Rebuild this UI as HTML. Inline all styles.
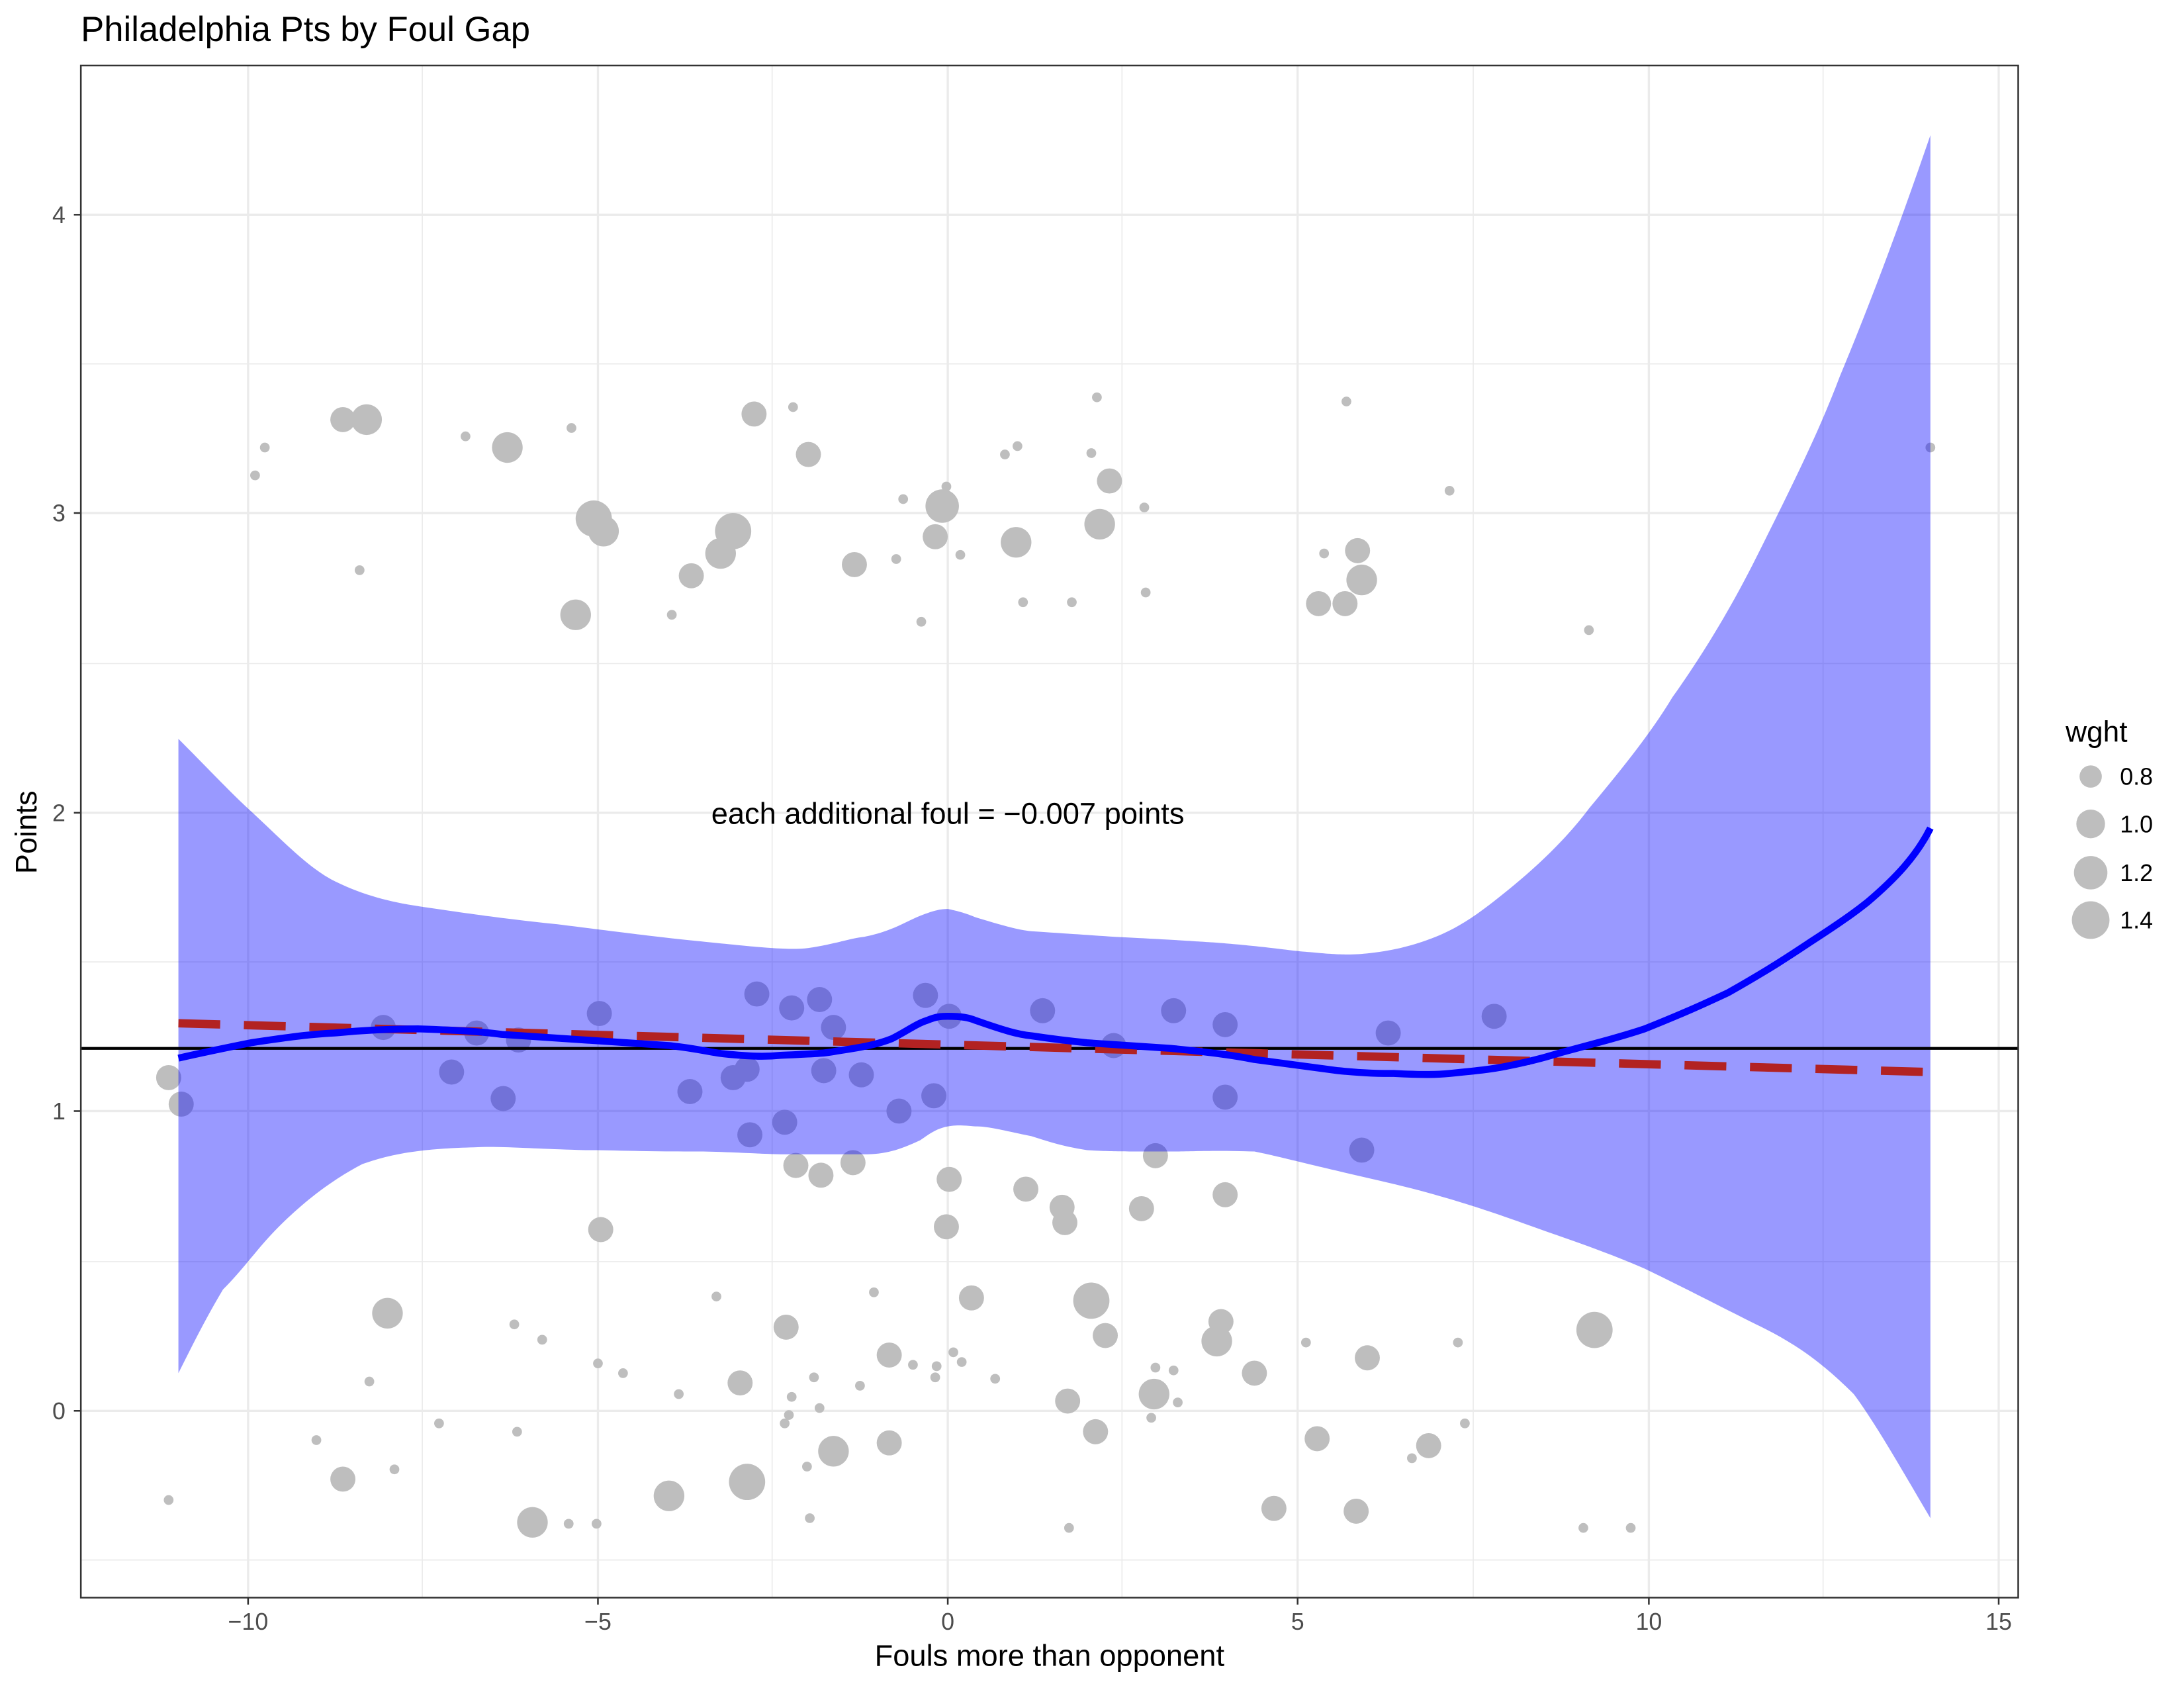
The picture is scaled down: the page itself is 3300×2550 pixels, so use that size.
<!DOCTYPE html>
<html><head><meta charset="utf-8"><style>html,body{margin:0;padding:0;background:#fff}svg{display:block}text{font-family:"Liberation Sans",Arial,sans-serif}</style></head>
<body>
<svg width="3300" height="2550" viewBox="0 0 3300 2550" xmlns="http://www.w3.org/2000/svg">
<rect x="0" y="0" width="3300" height="2550" fill="#fff"/>
<g transform="scale(2.106,2.106)">
<text x="58" y="29.5" font-size="25" fill="#000">Philadelphia Pts by Foul Gap</text>
<g stroke="#ebebeb" stroke-width="0.8">
<line x1="58" x2="1448" y1="261" y2="261"/><line x1="58" x2="1448" y1="476" y2="476"/><line x1="58" x2="1448" y1="690" y2="690"/><line x1="58" x2="1448" y1="905" y2="905"/><line x1="58" x2="1448" y1="1119" y2="1119"/>
<line y1="47" y2="1146" x1="303" x2="303"/><line y1="47" y2="1146" x1="554" x2="554"/><line y1="47" y2="1146" x1="805" x2="805"/><line y1="47" y2="1146" x1="1057" x2="1057"/><line y1="47" y2="1146" x1="1308" x2="1308"/>
</g>
<g stroke="#ebebeb" stroke-width="1.6">
<line x1="58" x2="1448" y1="154" y2="154"/><line x1="58" x2="1448" y1="368" y2="368"/><line x1="58" x2="1448" y1="583" y2="583"/><line x1="58" x2="1448" y1="797" y2="797"/><line x1="58" x2="1448" y1="1012" y2="1012"/>
<line y1="47" y2="1146" x1="178" x2="178"/><line y1="47" y2="1146" x1="429" x2="429"/><line y1="47" y2="1146" x1="680" x2="680"/><line y1="47" y2="1146" x1="931" x2="931"/><line y1="47" y2="1146" x1="1183" x2="1183"/><line y1="47" y2="1146" x1="1434" x2="1434"/>
</g>
<g fill="#bebebe">
<circle cx="246" cy="301" r="9"/><circle cx="263" cy="301" r="11"/><circle cx="190" cy="321" r="3.5"/><circle cx="183" cy="341" r="3.5"/><circle cx="258" cy="409" r="3.5"/><circle cx="334" cy="313" r="3.5"/><circle cx="364" cy="321" r="11"/><circle cx="410" cy="307" r="3.5"/><circle cx="426" cy="372" r="13"/><circle cx="433" cy="381" r="11"/><circle cx="413" cy="441" r="11"/><circle cx="482" cy="441" r="3.5"/><circle cx="496" cy="413" r="9"/><circle cx="517" cy="397" r="11"/><circle cx="526" cy="381" r="13"/><circle cx="541" cy="297" r="9"/><circle cx="569" cy="292" r="3.5"/><circle cx="580" cy="326" r="9"/><circle cx="613" cy="405" r="9"/><circle cx="643" cy="401" r="3.5"/><circle cx="648" cy="358" r="3.5"/><circle cx="661" cy="446" r="3.5"/><circle cx="671" cy="385" r="9"/><circle cx="676" cy="363" r="12"/><circle cx="679" cy="349" r="3.5"/><circle cx="689" cy="398" r="3.5"/><circle cx="729" cy="389" r="11"/><circle cx="721" cy="326" r="3.5"/><circle cx="730" cy="320" r="3.5"/><circle cx="734" cy="432" r="3.5"/><circle cx="783" cy="325" r="3.5"/><circle cx="787" cy="285" r="3.5"/><circle cx="796" cy="345" r="9"/><circle cx="789" cy="376" r="11"/><circle cx="821" cy="364" r="3.5"/><circle cx="822" cy="425" r="3.5"/><circle cx="769" cy="432" r="3.5"/><circle cx="946" cy="433" r="9"/><circle cx="950" cy="397" r="3.5"/><circle cx="966" cy="288" r="3.5"/><circle cx="965" cy="433" r="9"/><circle cx="974" cy="395" r="9"/><circle cx="977" cy="416" r="11"/><circle cx="1040" cy="352" r="3.5"/><circle cx="1140" cy="452" r="3.5"/><circle cx="1385" cy="321" r="3.5"/>
<circle cx="121" cy="773" r="9"/><circle cx="130" cy="792" r="9"/><circle cx="275" cy="737" r="9"/><circle cx="342" cy="741" r="9"/><circle cx="372" cy="746" r="9"/><circle cx="324" cy="769" r="9"/><circle cx="361" cy="788" r="9"/><circle cx="430" cy="727" r="9"/><circle cx="495" cy="783" r="9"/><circle cx="526" cy="773" r="9"/><circle cx="536" cy="767" r="9"/><circle cx="543" cy="713" r="9"/><circle cx="538" cy="814" r="9"/><circle cx="563" cy="805" r="9"/><circle cx="568" cy="723" r="9"/><circle cx="588" cy="717" r="9"/><circle cx="598" cy="737" r="9"/><circle cx="591" cy="768" r="9"/><circle cx="618" cy="771" r="9"/><circle cx="645" cy="797" r="9"/><circle cx="664" cy="714" r="9"/><circle cx="670" cy="786" r="9"/><circle cx="681" cy="729" r="9"/><circle cx="748" cy="725" r="9"/><circle cx="799" cy="750" r="9"/><circle cx="842" cy="725" r="9"/><circle cx="879" cy="735" r="9"/><circle cx="879" cy="787" r="9"/><circle cx="977" cy="825" r="9"/><circle cx="996" cy="741" r="9"/><circle cx="1072" cy="729" r="9"/>
<circle cx="571" cy="836" r="9"/><circle cx="589" cy="843" r="9"/><circle cx="612" cy="834" r="9"/><circle cx="681" cy="846" r="9"/><circle cx="679" cy="880" r="9"/><circle cx="431" cy="882" r="9"/><circle cx="736" cy="853" r="9"/><circle cx="762" cy="866" r="9"/><circle cx="764" cy="877" r="9"/><circle cx="819" cy="867" r="9"/><circle cx="829" cy="829" r="9"/><circle cx="879" cy="857" r="9"/>
<circle cx="278" cy="942" r="11"/><circle cx="564" cy="952" r="9"/><circle cx="514" cy="930" r="3.5"/><circle cx="627" cy="927" r="3.5"/><circle cx="697" cy="931" r="9"/><circle cx="783" cy="933" r="13"/><circle cx="793" cy="958" r="9"/><circle cx="876" cy="948" r="9"/><circle cx="873" cy="962" r="11"/><circle cx="900" cy="985" r="9"/><circle cx="981" cy="974" r="9"/><circle cx="1144" cy="954" r="13"/><circle cx="638" cy="972" r="9"/><circle cx="369" cy="950" r="3.5"/><circle cx="389" cy="961" r="3.5"/><circle cx="265" cy="991" r="3.5"/><circle cx="429" cy="978" r="3.5"/><circle cx="447" cy="985" r="3.5"/><circle cx="487" cy="1000" r="3.5"/><circle cx="531" cy="992" r="9"/><circle cx="568" cy="1002" r="3.5"/><circle cx="584" cy="988" r="3.5"/><circle cx="588" cy="1010" r="3.5"/><circle cx="617" cy="994" r="3.5"/><circle cx="655" cy="979" r="3.5"/><circle cx="684" cy="970" r="3.5"/><circle cx="690" cy="977" r="3.5"/><circle cx="672" cy="980" r="3.5"/><circle cx="671" cy="988" r="3.5"/><circle cx="714" cy="989" r="3.5"/><circle cx="766" cy="1005" r="9"/><circle cx="829" cy="981" r="3.5"/><circle cx="842" cy="983" r="3.5"/><circle cx="828" cy="1000" r="11"/><circle cx="845" cy="1006" r="3.5"/><circle cx="937" cy="963" r="3.5"/><circle cx="1046" cy="963" r="3.5"/><circle cx="315" cy="1021" r="3.5"/><circle cx="227" cy="1033" r="3.5"/><circle cx="371" cy="1027" r="3.5"/><circle cx="563" cy="1021" r="3.5"/><circle cx="566" cy="1015" r="3.5"/><circle cx="786" cy="1027" r="9"/><circle cx="826" cy="1017" r="3.5"/><circle cx="598" cy="1041" r="11"/><circle cx="638" cy="1035" r="9"/><circle cx="945" cy="1032" r="9"/><circle cx="1025" cy="1037" r="9"/><circle cx="1051" cy="1021" r="3.5"/><circle cx="1013" cy="1046" r="3.5"/><circle cx="246" cy="1061" r="9"/><circle cx="283" cy="1054" r="3.5"/><circle cx="579" cy="1052" r="3.5"/><circle cx="536" cy="1063" r="13"/><circle cx="480" cy="1073" r="11"/><circle cx="121" cy="1076" r="3.5"/><circle cx="382" cy="1092" r="11"/><circle cx="408" cy="1093" r="3.5"/><circle cx="428" cy="1093" r="3.5"/><circle cx="581" cy="1089" r="3.5"/><circle cx="914" cy="1082" r="9"/><circle cx="973" cy="1084" r="9"/><circle cx="767" cy="1096" r="3.5"/><circle cx="1136" cy="1096" r="3.5"/><circle cx="1170" cy="1096" r="3.5"/>
</g>
<path fill="#0000ff" fill-opacity="0.4" d="M128,530 C150,552 165,568 178,580 C200,600 220,622 240,632 C260,642 280,647 300,650 C340,656 370,660 400,663 C440,668 470,672 500,675 C540,679 565,682 580,680 C600,677 610,673 620,672 C640,668 650,661 660,657 C670,653 675,652 680,652 C690,654 695,656 700,658 C720,664 730,667 740,668 C770,670 785,671 800,672 C840,674 855,675 870,676 C910,679 925,682 940,683 C960,685 970,685 980,684 C1000,682 1015,678 1030,672 C1050,664 1065,652 1080,640 C1105,620 1125,600 1140,580 C1165,550 1185,525 1200,500 C1225,465 1245,430 1260,400 C1285,350 1305,310 1320,270 C1345,210 1365,155 1385,97 L1385,1089 C1365,1055 1345,1020 1330,1000 C1305,975 1285,962 1260,950 C1230,935 1205,922 1180,910 C1150,897 1125,889 1100,880 C1075,871 1060,866 1040,860 C1010,851 985,846 960,840 C930,833 915,829 900,826 C870,825 855,826 840,826 C810,826 795,826 780,825 C760,822 750,818 740,815 C720,811 710,808 700,808 C690,807 685,807 680,808 C670,810 665,815 660,818 C645,825 635,828 620,828 C590,828 575,828 560,828 C530,827 515,826 500,826 C460,826 440,825 420,825 C380,824 360,822 340,823 C300,824 280,828 260,835 C235,848 215,865 200,880 C185,895 175,910 160,925 C148,945 138,965 128,985 Z"/>
<line x1="58" x2="1448" y1="752" y2="752" stroke="#000" stroke-width="2"/>
<line x1="128" y1="734" x2="1385" y2="769" stroke="#b22222" stroke-width="6" stroke-dasharray="30,17"/>
<path fill="none" stroke="#0000ff" stroke-width="5" stroke-linejoin="round" d="M128,759 C150,754 165,751 180,748 C200,745 220,742 240,741 C260,739 280,738 300,738 C330,739 345,740 360,742 C390,744 405,745 420,746 C450,748 465,749 480,750 C500,752 510,755 520,756 C540,758 550,758 560,757 C580,756 590,756 600,754 C620,751 630,749 640,745 C650,740 658,734 665,732 C672,729 676,729 680,729 C690,729 695,730 700,732 C720,739 730,742 740,743 C760,746 770,747 780,748 C810,750 825,751 840,752 C870,755 885,757 900,760 C930,764 945,766 960,768 C980,770 990,770 1000,770 C1020,771 1030,771 1040,770 C1060,768 1070,767 1080,765 C1100,761 1110,758 1120,755 C1150,747 1165,743 1180,738 C1210,726 1225,719 1240,712 C1270,695 1285,685 1300,675 C1320,662 1330,655 1340,647 C1360,630 1375,614 1385,594"/>
<text x="680" y="591" font-size="21.5" text-anchor="middle" fill="#000">each additional foul = −0.007 points</text>
<rect x="58" y="47" width="1390" height="1099" fill="none" stroke="#333" stroke-width="1.2"/>
<g stroke="#333" stroke-width="1.2">
<line x1="53" x2="58" y1="154" y2="154"/><line x1="53" x2="58" y1="368" y2="368"/><line x1="53" x2="58" y1="583" y2="583"/><line x1="53" x2="58" y1="797" y2="797"/><line x1="53" x2="58" y1="1012" y2="1012"/>
<line y1="1146" y2="1151" x1="178" x2="178"/><line y1="1146" y2="1151" x1="429" x2="429"/><line y1="1146" y2="1151" x1="680" x2="680"/><line y1="1146" y2="1151" x1="931" x2="931"/><line y1="1146" y2="1151" x1="1183" x2="1183"/><line y1="1146" y2="1151" x1="1434" x2="1434"/>
</g>
<g font-size="17" fill="#4d4d4d" text-anchor="end">
<text x="47" y="160">4</text><text x="47" y="374">3</text><text x="47" y="589">2</text><text x="47" y="803">1</text><text x="47" y="1018">0</text>
</g>
<g font-size="17" fill="#4d4d4d" text-anchor="middle">
<text x="178" y="1169">−10</text><text x="429" y="1169">−5</text><text x="680" y="1169">0</text><text x="931" y="1169">5</text><text x="1183" y="1169">10</text><text x="1434" y="1169">15</text>
</g>
<text x="753" y="1195" font-size="21.5" text-anchor="middle" fill="#000">Fouls more than opponent</text>
<text transform="translate(26,597) rotate(-90)" font-size="21.5" text-anchor="middle" fill="#000">Points</text>
<text x="1482" y="532" font-size="21" fill="#000">wght</text>
<g fill="#bebebe">
<circle cx="1500" cy="557" r="8"/><circle cx="1500" cy="591" r="10.3"/><circle cx="1500" cy="626" r="12"/><circle cx="1500" cy="660" r="13.5"/>
</g>
<g font-size="17" fill="#000">
<text x="1521" y="563">0.8</text><text x="1521" y="597">1.0</text><text x="1521" y="632">1.2</text><text x="1521" y="666">1.4</text>
</g>
</g>
</svg>
</body></html>
